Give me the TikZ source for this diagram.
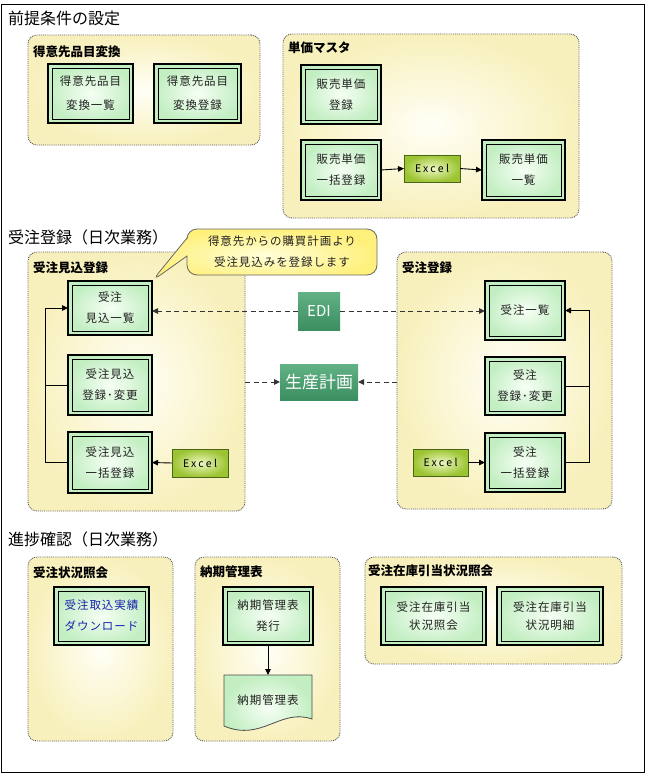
\documentclass[tikz,border=0pt]{standalone}
\usepackage{fontspec}
\newfontfamily\jp{Noto Sans CJK JP}
\newfontfamily\jpl[LetterSpace=8]{Noto Sans CJK JP}
\newfontfamily\jpx[LetterSpace=22]{Noto Sans CJK JP}
\usetikzlibrary{arrows.meta,shapes.callouts}
\definecolor{grpout}{HTML}{F8F0BC}
\definecolor{grpin}{HTML}{FFFFF6}
\definecolor{boxout}{HTML}{C2EEC2}
\definecolor{boxin}{HTML}{F6FFF4}
\definecolor{xlout}{HTML}{9CC432}
\definecolor{xlin}{HTML}{EEF8C4}
\definecolor{xlline}{HTML}{4A6418}
\definecolor{dkgtop}{HTML}{62B285}
\definecolor{dkgbot}{HTML}{3A8E60}
\definecolor{coout}{HTML}{FFF07C}
\definecolor{coin}{HTML}{FFFFD8}
\definecolor{bluetxt}{HTML}{1A22B0}
\definecolor{txt}{HTML}{222222}
\tikzset{
  grp/.style={draw=black!65, densely dotted, line width=0.9pt, rounded corners=9pt,
    inner color=grpin, outer color=grpout, anchor=north west, inner sep=0pt, outer sep=0pt},
  grplabel/.style={anchor=west, inner sep=0pt, font=\jp\bfseries\fontsize{12.5}{14}\selectfont},
  title/.style={anchor=west, inner sep=0pt, font=\jp\fontsize{16}{18}\selectfont},
  box/.style={draw=black, line width=1.6pt, inner color=boxin, outer color=boxout,
    inner sep=0pt, outer sep=0pt, align=center, text=txt,
    font=\jpl\fontsize{11.5}{21}\selectfont,
    path picture={\draw[line width=0.8pt,black]
      ([shift={(4pt,-4pt)}]path picture bounding box.north west) rectangle
      ([shift={(-4pt,4pt)}]path picture bounding box.south east);}},
  xl/.style={draw=xlline, line width=1pt, inner color=xlin, outer color=xlout,
    inner sep=0pt, outer sep=0pt, text=black, font=\jpx\fontsize{10.5}{12}\selectfont},
  dkg/.style={top color=dkgtop, bottom color=dkgbot, draw=none, inner sep=0pt, outer sep=0pt, text=white},
  arr/.style={draw=black, line width=0.9pt, -{Triangle[length=6pt,width=5.5pt]}},
  dsh/.style={draw=black!80, line width=0.9pt, dash pattern=on 5pt off 3.5pt, -{Triangle[length=6pt,width=5.5pt]}},
  ln/.style={draw=black, line width=0.9pt},
}
\begin{document}
\begin{tikzpicture}[x=1pt,y=-1pt]
\useasboundingbox (0,0) rectangle (646,777);
\fill[white] (0,0) rectangle (646,777);
\draw[black, line width=0.8pt] (1,4) rectangle (644,772);

% titles
\node[title] (t1) at (8,18) {前提条件の設定};
\node[title] (t2) at (8,237) {受注登録（日次業務）};
\node[title] (t3) at (8,539) {進捗確認（日次業務）};

% groups
\node[grp, minimum width=232pt, minimum height=110pt] (g1) at (28,35) {};
\node[grp, minimum width=296pt, minimum height=184pt] (g2) at (283,34) {};
\node[grp, minimum width=217pt, minimum height=259pt] (g3) at (28,252) {};
\node[grp, minimum width=215pt, minimum height=257pt] (g4) at (397,252) {};
\node[grp, minimum width=145pt, minimum height=184pt] (g5) at (28,557) {};
\node[grp, minimum width=145pt, minimum height=184pt] (g6) at (195,557) {};
\node[grp, minimum width=257pt, minimum height=107pt] (g7) at (365,557) {};

\node[grplabel] (l1) at (33,52) {得意先品目変換};
\node[grplabel] (l2) at (288,48) {単価マスタ};
\node[grplabel] (l3) at (33,268) {受注見込登録};
\node[grplabel] (l4) at (402,268) {受注登録};
\node[grplabel] (l5) at (33,573) {受注状況照会};
\node[grplabel] (l6) at (200,572) {納期管理表};
\node[grplabel] (l7) at (368,571) {受注在庫引当状況照会};

% group 1
\node[box, minimum width=85pt, minimum height=59pt, font=\jpl\fontsize{11.5}{24}\selectfont] (b11) at (90.5,93.5) {得意先品目\\変換一覧};
\node[box, minimum width=87pt, minimum height=59pt, font=\jpl\fontsize{11.5}{24}\selectfont] (b12) at (197.5,93.5) {得意先品目\\変換登録};

% group 2
\node[box, minimum width=80pt, minimum height=59pt] (b21) at (341,94.5) {販売単価\\登録};
\node[box, minimum width=80pt, minimum height=60pt] (b22) at (341,170) {販売単価\\一括登録};
\node[xl, minimum width=56pt, minimum height=27pt] (x21) at (432,168.5) {Excel};
\node[box, minimum width=83pt, minimum height=60pt] (b23) at (523.5,170) {販売単価\\一覧};
\draw[arr] (b22.east) -- (x21.west);
\draw[arr] (x21.east) -- (b23.west);

% group 3
\node[box, minimum width=84pt, minimum height=54pt] (b31) at (110,308) {受注\\見込一覧};
\node[box, minimum width=84pt, minimum height=60pt] (b32) at (110,385) {受注見込\\登録･変更};
\node[box, minimum width=84pt, minimum height=61pt] (b33) at (110,462.5) {受注見込\\一括登録};
\node[xl, minimum width=56pt, minimum height=28pt] (x31) at (200,463) {Excel};
\draw[arr] (x31.west) -- (b33.east);
\draw[arr] (b33.west) -- ++(-23,0) |- (b31.west);
\draw[ln] (b32.west) -- ++(-23,0);

% group 4
\node[box, minimum width=80pt, minimum height=59pt] (b41) at (525,310.5) {受注一覧};
\node[box, minimum width=80pt, minimum height=58pt] (b42) at (525,386) {受注\\登録･変更};
\node[box, minimum width=80pt, minimum height=59pt] (b43) at (525,462.5) {受注\\一括登録};
\node[xl, minimum width=55pt, minimum height=27pt] (x41) at (440.5,462.5) {Excel};
\draw[arr] (x41.east) -- (b43.west);
\draw[arr] (b43.east) -- ++(24,0) |- (b41.east);
\draw[ln] (b42.east) -- ++(24,0);

% EDI and 生産計画
\node[dkg, minimum width=42pt, minimum height=38pt, font=\jp\fontsize{15}{17}\selectfont] (edi) at (319,311) {EDI};
\node[dkg, minimum width=78pt, minimum height=36pt, font=\jp\fontsize{17}{19}\selectfont] (sk) at (319,382) {生産計画};
\draw[dsh] (edi.west) -- (b31.east |- edi.west);
\draw[dsh] (edi.east) -- (b41.west |- edi.east);
\draw[dsh] (g3.east |- sk.west) -- (sk.west);
\draw[dsh] (g4.west |- sk.east) -- (sk.east);

% callout
\node[rectangle callout, draw=black!60, line width=0.8pt, rounded corners=10pt,
  inner color=coin, outer color=coout, minimum width=190pt, minimum height=46pt,
  inner sep=0pt, callout absolute pointer={(b31.north east)}, callout pointer width=18pt,
  align=center, text=txt, font=\jpl\fontsize{11.5}{21}\selectfont] (co) at (282,252)
  {得意先からの購買計画より\\受注見込みを登録します};

% group 5
\node[box, minimum width=95pt, minimum height=58pt, text=bluetxt] (b51) at (101.5,616) {受注取込実績\\ダウンロード};

% group 6
\node[box, minimum width=90pt, minimum height=58pt] (b61) at (268,616) {納期管理表\\発行};
\path[draw=black!70, line width=0.8pt, inner color=boxin, outer color=boxout]
  (224,675) -- (312,675) -- (312,719) .. controls (280,708) and (262,742) .. (224,726) -- cycle;
\node[inner sep=0pt, minimum width=88pt, minimum height=50pt, anchor=north, text=txt,
  font=\jpl\fontsize{11.5}{21}\selectfont] (doc) at (268,675) {納期管理表};
\draw[arr] (b61.south) -- (doc.north);

% group 7
\node[box, minimum width=105pt, minimum height=58pt, font=\jpl\fontsize{11.5}{18}\selectfont] (b71) at (433.5,616) {受注在庫引当\\状況照会};
\node[box, minimum width=106pt, minimum height=58pt, font=\jpl\fontsize{11.5}{18}\selectfont] (b72) at (550,616) {受注在庫引当\\状況明細};
\end{tikzpicture}
\end{document}
